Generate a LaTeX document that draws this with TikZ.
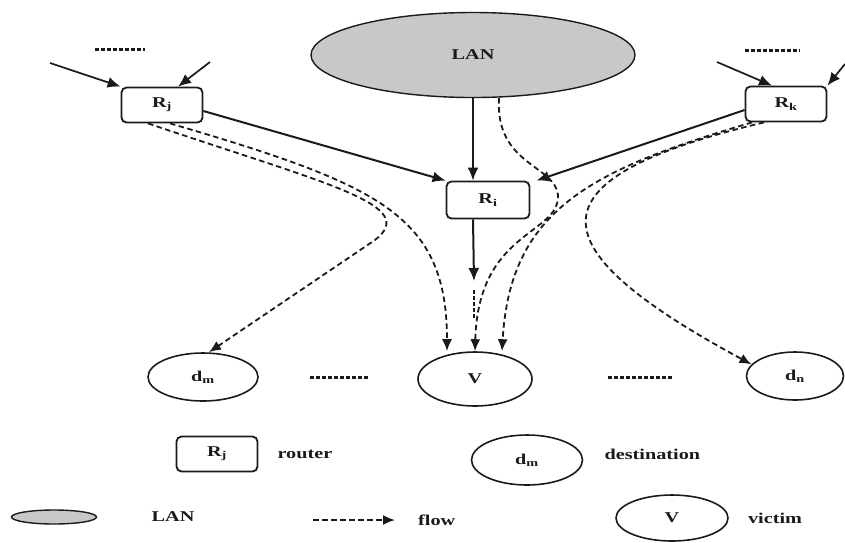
\documentclass[tikz,border=0pt]{standalone}
\usepackage{fontspec}
\setmainfont{Liberation Serif}[FakeStretch=1.35]
\usetikzlibrary{positioning,arrows.meta,shapes.geometric}
\definecolor{lanfill}{HTML}{C8C8C8}
\definecolor{inkblack}{HTML}{1A1A1A}
\tikzset{
  txt/.style  = {font=\fontsize{15}{18}\selectfont\bfseries, text=inkblack},
  box/.style  = {rounded corners=5pt, draw=inkblack, line width=1.8pt, txt,
                 inner sep=2pt},
  rtr/.style  = {box, minimum width=81pt, minimum height=35pt},
  lan/.style  = {ellipse, draw=inkblack, line width=1.4pt, fill=lanfill, txt},
  host/.style = {ellipse, draw=inkblack, line width=1.6pt, txt, inner sep=0pt},
  arr/.style  = {-{Latex[length=13pt,width=11pt]}, line width=2pt, draw=inkblack},
  flow/.style = {-{Latex[length=12pt,width=10pt]}, line width=1.8pt, draw=inkblack,
                 dash pattern=on 5.5pt off 3.5pt},
  gap/.style  = {line width=3pt, draw=inkblack, dash pattern=on 3.5pt off 2.5pt},
  lab/.style  = {txt, inner sep=1pt},
}
\begin{document}
\begin{tikzpicture}[x=1pt, y=-1pt]
  \useasboundingbox (0,0) rectangle (845,542);

  \node[lan, minimum width=324pt, minimum height=85pt] (lan) at (473,55) {LAN};
  \node[rtr] (rj) at (162,105) {R\textsubscript{j}};
  \node[rtr] (rk) at (786,104) {R\textsubscript{k}};
  \node[rtr, minimum width=83pt, minimum height=37pt] (ri) at (488,200) {R\textsubscript{i}};

  \node[host, minimum width=114pt, minimum height=54pt] (v)  at (475,379) {V};
  \node[host, minimum width=110pt, minimum height=48pt] (dm) at (203,377) {d\textsubscript{m}};
  \node[host, minimum width=97pt,  minimum height=48pt] (dn) at (795,376) {d\textsubscript{n}};

  % --- "more of the same" marks ---
  \draw[gap] (95,49) -- (145,49);
  \draw[gap] (745,50) -- (800,50);
  \draw[gap] (310,377) -- (368,377);
  \draw[gap] (608,377) -- (672,377);
  \draw[gap, line width=2.4pt] (474,290) -- (474,318);

  % --- incoming traffic ---
  \coordinate (inj1) at (50,63);
  \coordinate (inj2) at (210,62);
  \coordinate (ink1) at (717,62);
  \coordinate (ink2) at (845,64);
  \draw[arr, line width=1.7pt] (inj1) -- (rj.north west);
  \draw[arr, line width=1.7pt] (inj2) -- ([xshift=16]rj.north);
  \draw[arr, line width=1.7pt] (ink1) -- ([xshift=-14]rk.north);
  \draw[arr, line width=1.7pt] (ink2) -- (rk.north east);

  \draw[arr] ([yshift=-6]rj.east) -- (ri.north west);
  \draw[arr] ([yshift=-6]rk.west) -- ([xshift=6]ri.north east);
  \draw[arr] (lan.south) -- (lan.south |- ri.north);
  \coordinate (rio) at (474,281);
  \draw[arr] (lan.south |- ri.south) -- (rio);

  % --- flows ---
  \draw[flow] ([xshift=8]rj.south) .. controls (380,185) and (447,215) .. ([xshift=-28]v.north);
  \draw[flow] ([xshift=-14]rj.south) .. controls (330,185) and (420,205) .. (375,240)
        -- ([xshift=6]dm.north);
  \draw[flow] ([xshift=26]lan.south) .. controls (495,165) and (555,165) .. (558,195)
        .. controls (560,235) and (478,230) .. (v.north);
  \draw[flow] ([xshift=-34]rk.south) .. controls (590,170) and (510,210) .. ([xshift=27]v.north);
  \draw[flow] ([xshift=-22]rk.south) .. controls (520,180) and (540,250) .. (dn.165);

  % --- legend ---
  \node[rtr] (lgr) at (217,454) {R\textsubscript{j}};
  \node[lab, right=18pt of lgr] (lgrt) {router};
  \node[host, minimum width=111pt, minimum height=50pt] (lgd) at (527,460) {d\textsubscript{m}};
  \node[lab, right=20pt of lgd, yshift=6pt] (lgdt) {destination};
  \node[lan, minimum width=85pt, minimum height=14pt, inner sep=0pt] (lgl) at (54,517) {};
  \node[lab] (lglt) at (173,517) {LAN};
  \coordinate (lgfa) at (313,520);
  \coordinate (lgfb) at (395,520);
  \draw[flow] (lgfa) -- (lgfb);
  \node[lab, right=22pt of lgfb] (lgft) {flow};
  \node[host, minimum width=112pt, minimum height=46pt] (lgv) at (672,518) {V};
  \node[lab, right=18pt of lgv] (lgvt) {victim};
\end{tikzpicture}
\end{document}
